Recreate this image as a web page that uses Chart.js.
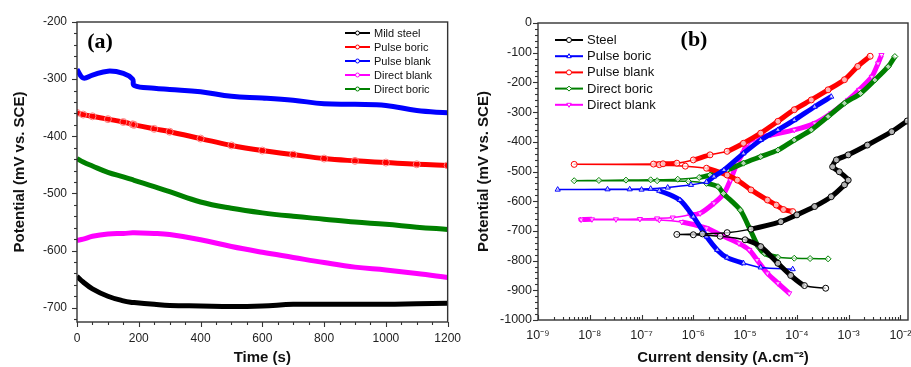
<!DOCTYPE html>
<html>
<head>
<meta charset="utf-8">
<script src="https://cdn.jsdelivr.net/npm/chart.js@4.4.0/dist/chart.umd.min.js"></script>
<style>
  html, body { margin: 0; padding: 0; background: #fff; overflow: hidden; }
  #wrap { position: relative; width: 911px; height: 367px; overflow: hidden; }
  #boxA { position: absolute; left: 0; top: 0; width: 470px; height: 367px; }
  #boxB { position: absolute; left: 455px; top: 0; width: 480px; height: 367px; }
</style>
</head>
<body>
<div id="wrap">
  <div id="boxA"><canvas id="ocpChart"></canvas></div>
  <div id="boxB"><canvas id="tafelChart"></canvas></div>
</div>
<script>
// ---------- panel (a): open circuit potential vs time ----------
const timeA = [0, 20, 50, 100, 150, 180, 185, 250, 300, 400, 500, 600, 700, 800, 900, 1000, 1100, 1200];
const mildSteelA   = [-645, -655, -667, -680, -688, -691, -691, -694, -696, -697, -698, -697, -694, -694, -694, -694, -693, -692];
const pulseBoricA  = [-359, -362, -365, -370, -375, -379, -380, -387, -392, -404, -416, -425, -432, -439, -443, -446, -449, -451];
const pulseBlankA  = [-283, -298, -293, -286, -290, -300, -311, -316, -318, -322, -330, -333, -337, -343, -344, -346, -355, -359];
const directBlankA = [-582, -580, -575, -571, -570, -569, -569, -570, -572, -581, -593, -603, -612, -621, -629, -634, -640, -647];
const directBoricA = [-439, -445, -452, -463, -471, -476, -477, -488, -497, -515, -526, -534, -540, -545, -550, -554, -559, -563];
const timeTicksA = [0, 200, 400, 600, 800, 1000, 1200];
const potTicksA = [-700, -600, -500, -400, -300, -200];

// ---------- panel (b): polarization curves (potential mV, current A/cm2) ----------
const steelE = [-893, -884, -850, -809, -753, -730, -718, -713, -712, -710, -706, -694, -669, -646, -618, -585, -545, -529, -501, -484, -461, -444, -411, -366, -330];
const steelI = [3.6e-4, 1.4e-4, 7.6e-5, 4.3e-5, 2.0e-5, 1.0e-5, 3.3e-6, 1.0e-6, 4.8e-7, 1.5e-6, 4.5e-6, 1.3e-5, 4.9e-5, 1.0e-4, 2.2e-4, 4.6e-4, 8.3e-4, 9.8e-4, 6.6e-4, 4.9e-4, 5.8e-4, 9.8e-4, 2.3e-3, 6.8e-3, 1.35e-2];

const pBoricE = [-829, -823, -809, -790, -764, -719, -652, -596, -565, -561, -561, -560, -560, -558, -554, -545, -535, -517, -495, -439, -394, -360, -327, -282, -248];
const pBoricI = [8.3e-5, 2.0e-5, 9.3e-6, 4.5e-6, 2.9e-6, 1.8e-6, 1.0e-6, 5.5e-7, 2.2e-7, 1.0e-7, 2.4e-9, 2.2e-8, 5.9e-8, 1.5e-7, 3.2e-7, 9.0e-7, 1.8e-6, 2.5e-6, 3.9e-6, 9.3e-6, 2.0e-5, 4.3e-5, 8.9e-5, 2.2e-4, 4.6e-4];

const pBlankE = [-635, -628, -613, -596, -562, -529, -512, -489, -482, -477, -476, -475, -474, -472, -461, -444, -432, -405, -371, -331, -292, -259, -225, -191, -146, -112];
const pBlankI = [8.3e-5, 5.5e-5, 4.0e-5, 2.7e-5, 1.3e-5, 7.1e-6, 4.5e-6, 1.8e-6, 7.0e-7, 2.2e-7, 5.0e-9, 1.7e-7, 2.6e-7, 4.8e-7, 1.0e-6, 2.1e-6, 4.5e-6, 9.3e-6, 2.0e-5, 4.3e-5, 8.9e-5, 1.9e-4, 4.0e-4, 8.3e-4, 1.5e-3, 2.6e-3];

const dBoricE = [-794, -793, -792, -789, -776, -753, -697, -630, -574, -551, -540, -533, -531, -531, -530, -529, -528, -526, -520, -512, -495, -472, -450, -428, -394, -360, -315, -270, -237, -192, -147, -113];
const dBoricI = [4.0e-4, 1.8e-4, 8.9e-5, 4.3e-5, 2.4e-5, 1.8e-5, 1.26e-5, 8.1e-6, 3.8e-6, 3.0e-6, 1.8e-6, 8.0e-7, 2.0e-7, 5.0e-9, 1.5e-8, 5.0e-8, 1.5e-7, 5.0e-7, 1.3e-6, 2.1e-6, 4.5e-6, 9.3e-6, 2.0e-5, 4.3e-5, 8.9e-5, 1.9e-4, 4.0e-4, 8.3e-4, 1.7e-3, 3.2e-3, 5.8e-3, 7.8e-3];

const dBlankE = [-910, -876, -843, -798, -764, -742, -715, -691, -670, -663, -662, -661, -661, -660, -658, -655, -646, -641, -607, -574, -529, -472, -439, -405, -388, -377, -360, -338, -304, -259, -225, -181, -136, -108];
const dBlankI = [7.1e-5, 4.3e-5, 2.7e-5, 1.7e-5, 1.2e-5, 7.6e-6, 3.5e-6, 1.8e-6, 6.0e-7, 2.2e-7, 6.8e-9, 1.1e-8, 3.2e-8, 9.3e-8, 2.0e-7, 4.0e-7, 8.7e-7, 1.35e-6, 2.5e-6, 3.9e-6, 5.2e-6, 7.0e-6, 9.0e-6, 1.1e-5, 1.6e-5, 3.1e-5, 8.9e-5, 2.2e-4, 4.6e-4, 9.8e-4, 1.6e-3, 2.8e-3, 3.7e-3, 4.3e-3];

const currentTicksB = [1e-9, 1e-8, 1e-7, 1e-6, 1e-5, 1e-4, 1e-3, 1e-2];
const currentLabelsB = ["10⁻⁹", "10⁻⁸", "10⁻⁷", "10⁻⁶", "10⁻⁵", "10⁻⁴", "10⁻³", "10⁻²"];
const potTicksB = [-1000, -900, -800, -700, -600, -500, -400, -300, -200, -100, 0];

const FONT = "'Liberation Sans', Arial, sans-serif";
Chart.defaults.font.family = FONT;
Chart.defaults.color = "#222";

// minor tick positions (axis decoration only)
function minorLinear(min, max, step, major) {
  const out = [];
  for (let v = min; v <= max; v += step) if (v % major !== 0) out.push(v);
  return out;
}
function minorLog(fromExp, toExp) {
  const out = [];
  for (let e = fromExp; e < toExp; e++) for (let m = 2; m <= 9; m++) out.push(m * Math.pow(10, e));
  return out;
}

function drawMarker(ctx, style, rot, x, y, r) {
  ctx.beginPath();
  if (style === "triangle") {
    const s = rot ? -1 : 1;
    ctx.moveTo(x, y - s * r);
    ctx.lineTo(x + r * 0.9, y + s * r * 0.6);
    ctx.lineTo(x - r * 0.9, y + s * r * 0.6);
    ctx.closePath();
  } else if (style === "rectRot") {
    ctx.moveTo(x, y - r); ctx.lineTo(x + r, y); ctx.lineTo(x, y + r); ctx.lineTo(x - r, y);
    ctx.closePath();
  } else {
    ctx.arc(x, y, r, 0, Math.PI * 2);
  }
  ctx.fillStyle = "#fff";
  ctx.fill();
  ctx.stroke();
}

// frame, ticks, panel tag and in-plot legend
const panelDecor = {
  id: "panelDecor",
  afterDatasetsDraw(chart, args, opts) {
    const { ctx, chartArea: area } = chart;
    const xs = chart.scales.x, ys = chart.scales.y;
    ctx.save();
    ctx.strokeStyle = "#333";
    ctx.lineWidth = 1.4;
    ctx.strokeRect(area.left, area.top, area.right - area.left, area.bottom - area.top);

    ctx.lineWidth = 1.1;
    const xDir = opts.xTicksIn ? -1 : 1;
    const tickX = (vals, len) => vals.forEach(v => {
      const px = Math.round(xs.getPixelForValue(v)) + 0.5;
      ctx.beginPath(); ctx.moveTo(px, area.bottom); ctx.lineTo(px, area.bottom + xDir * len); ctx.stroke();
    });
    const tickY = (vals, len) => vals.forEach(v => {
      const py = Math.round(ys.getPixelForValue(v)) + 0.5;
      ctx.beginPath(); ctx.moveTo(area.left, py); ctx.lineTo(area.left - len, py); ctx.stroke();
    });
    tickX(opts.xMajor, 5); tickX(opts.xMinor, 3);
    tickY(opts.yMajor, 5); tickY(opts.yMinor, 3);

    ctx.fillStyle = "#000";
    ctx.font = "bold 22px 'Liberation Serif', 'Times New Roman', serif";
    ctx.textAlign = "center";
    ctx.textBaseline = "middle";
    ctx.fillText(opts.tag, opts.tagX, opts.tagY);

    const lg = opts.legend;
    ctx.font = lg.fontSize + "px " + FONT;
    ctx.textAlign = "left";
    chart.data.datasets.forEach((ds, i) => {
      const y = lg.y + i * lg.rowH;
      ctx.strokeStyle = ds.borderColor;
      ctx.lineWidth = lg.lineW;
      ctx.beginPath(); ctx.moveTo(lg.x, y); ctx.lineTo(lg.x + lg.len, y); ctx.stroke();
      ctx.lineWidth = 1;
      drawMarker(ctx, ds.pointStyle || "circle", ds.pointRotation, lg.x + lg.len / 2, y, lg.markR);
      ctx.fillStyle = "#111";
      ctx.fillText(ds.label, lg.x + lg.len + 4, y + 0.5);
    });
    ctx.restore();
  }
};

function xy(xs, ys) {
  return xs.map((v, i) => ({ x: v, y: ys[i] }));
}

// ---------- chart (a) ----------
function lineSet(label, color, values, extra) {
  return Object.assign({
    label: label,
    data: xy(timeA, values),
    borderColor: color,
    backgroundColor: color,
    borderWidth: 5,
    pointRadius: 0,
    tension: 0.4,
  }, extra || {});
}

new Chart(document.getElementById("ocpChart"), {
  type: "line",
  data: {
    datasets: [
      lineSet("Mild steel", "#000000", mildSteelA),
      lineSet("Pulse boric", "#ff0000", pulseBoricA, {
        pointRadius: 3.5, pointBorderWidth: 1, pointBorderColor: "#ff8080", pointBackgroundColor: "rgba(255,255,255,0)",
      }),
      lineSet("Pulse blank", "#0000ff", pulseBlankA),
      lineSet("Direct blank", "#ff00ff", directBlankA),
      lineSet("Direct boric", "#008000", directBoricA),
    ],
  },
  options: {
    responsive: true,
    maintainAspectRatio: false,
    animation: false,
    devicePixelRatio: 1,
    layout: { padding: { left: 0, top: 22, right: 19, bottom: 0 } },
    plugins: {
      legend: { display: false },
      tooltip: { enabled: false },
      panelDecor: {
        xMajor: timeTicksA,
        xMinor: minorLinear(0, 1200, 50, 200),
        yMajor: potTicksA,
        yMinor: minorLinear(-720, -200, 20, 100),
        xTicksIn: false,
        tag: "(a)", tagX: 100, tagY: 42,
        legend: { x: 345, y: 33, rowH: 14, len: 25, lineW: 2, markR: 2, fontSize: 11 },
      },
    },
    scales: {
      x: {
        type: "linear", min: 0, max: 1200,
        afterBuildTicks: s => { s.ticks = timeTicksA.map(v => ({ value: v })); },
        afterFit: s => { s.height = 45; },
        grid: { display: false, drawTicks: false },
        border: { display: false },
        ticks: { padding: 9, font: { size: 12 }, maxRotation: 0, autoSkip: false, callback: v => String(v) },
        title: { display: true, text: "Time (s)", color: "#111", font: { size: 15, weight: "bold" }, padding: { top: 0, bottom: 0 } },
      },
      y: {
        type: "linear", min: -725, max: -200,
        afterBuildTicks: s => { s.ticks = potTicksA.map(v => ({ value: v })); },
        afterFit: s => { s.width = 77; },
        grid: { display: false, drawTicks: false },
        border: { display: false },
        ticks: { padding: 10, font: { size: 12 }, callback: v => String(v) },
        title: { display: true, text: "Potential (mV vs. SCE)", color: "#111", font: { size: 15, weight: "bold" }, padding: { top: 11, bottom: 0 } },
      },
    },
  },
  plugins: [panelDecor],
});

// ---------- chart (b) ----------
function tafelSet(label, color, style, currents, potentials, rot) {
  return {
    label: label,
    data: xy(currents, potentials),
    showLine: true,
    borderColor: color,
    backgroundColor: color,
    pointStyle: style,
    pointRotation: rot ? 180 : 0,
    pointRadius: 3,
    pointBorderWidth: 1,
    pointBorderColor: color,
    pointBackgroundColor: "rgba(255,255,255,0.7)",
    tension: 0.25,
    segment: {
      borderWidth: c => (Math.abs(c.p1.y - c.p0.y) < 5 && Math.abs(c.p1.x - c.p0.x) > 15) ? 1.5 : 5,
    },
  };
}

new Chart(document.getElementById("tafelChart"), {
  type: "scatter",
  data: {
    datasets: [
      tafelSet("Steel", "#000000", "circle", steelI, steelE),
      tafelSet("Pulse boric", "#0000ff", "triangle", pBoricI, pBoricE),
      tafelSet("Pulse blank", "#ff0000", "circle", pBlankI, pBlankE),
      tafelSet("Direct boric", "#008000", "rectRot", dBoricI, dBoricE),
      tafelSet("Direct blank", "#ff00ff", "triangle", dBlankI, dBlankE, true),
    ],
  },
  options: {
    responsive: true,
    maintainAspectRatio: false,
    animation: false,
    devicePixelRatio: 1,
    layout: { padding: { left: 0, top: 23, right: 27, bottom: 0 } },
    plugins: {
      legend: { display: false },
      tooltip: { enabled: false },
      panelDecor: {
        xMajor: currentTicksB,
        xMinor: minorLog(-9, -2),
        yMajor: potTicksB,
        yMinor: minorLinear(-1000, 0, 20, 100),
        xTicksIn: true,
        tag: "(b)", tagX: 239, tagY: 40,
        legend: { x: 100, y: 40, rowH: 16.2, len: 28, lineW: 2, markR: 2.5, fontSize: 13 },
      },
    },
    scales: {
      x: {
        type: "logarithmic", min: 1e-9, max: 1.4e-2,
        afterBuildTicks: s => { s.ticks = currentTicksB.map(v => ({ value: v })); },
        afterFit: s => { s.height = 47; },
        grid: { display: false, drawTicks: false },
        border: { display: false },
        ticks: { padding: 8, font: { size: 12.5 }, maxRotation: 0, autoSkip: false, callback: (v, i) => currentLabelsB[i] },
        title: { display: true, text: "Current density (A.cm⁻²)", color: "#111", font: { size: 15, weight: "bold" }, padding: { top: 0, bottom: 0 } },
      },
      y: {
        type: "linear", min: -1000, max: 0,
        afterBuildTicks: s => { s.ticks = potTicksB.map(v => ({ value: v })); },
        afterFit: s => { s.width = 83; },
        grid: { display: false, drawTicks: false },
        border: { display: false },
        ticks: { padding: 6, font: { size: 12.5 }, callback: v => String(v) },
        title: { display: true, text: "Potential (mV vs. SCE)", color: "#111", font: { size: 15, weight: "bold" }, padding: { top: 20, bottom: 0 } },
      },
    },
  },
  plugins: [panelDecor],
});
</script>
</body>
</html>
